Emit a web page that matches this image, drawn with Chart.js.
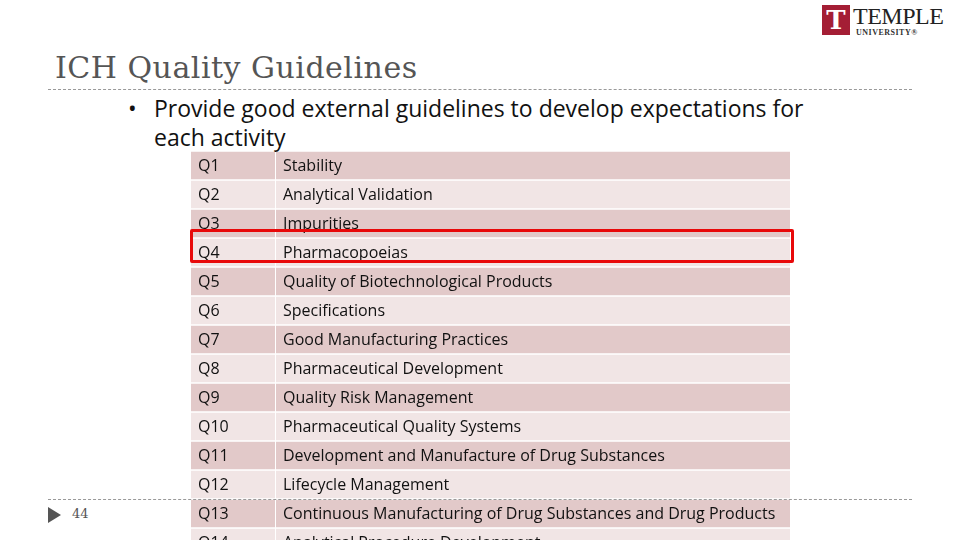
<!DOCTYPE html>
<html>
<head>
<meta charset="utf-8">
<script src="https://cdn.jsdelivr.net/npm/chart.js@4"></script>
<style>
  html, body { margin: 0; padding: 0; }
  body { width: 960px; height: 540px; overflow: hidden; position: relative; background: #fff; font-family: "Open Sans", sans-serif; }
  .abs { position: absolute; }
  #title { left: 55px; top: 50px; font-family: "DejaVu Serif", "Liberation Serif", serif; font-size: 30px; color: #555; letter-spacing: 0.5px; }
  .dash { left: 48px; width: 864px; border-top: 1px dashed #999; }
  #bullet { left: 128px; top: 94px; width: 680px; font-size: 23px; line-height: 29px; color: #111; }
  #bullet span { position: absolute; left: 0; }
  #bullet div { padding-left: 26px; }
  #table { left: 191px; top: 151px; }
  #hl { left: 190px; top: 229px; width: 598px; height: 28px; border: 3px solid #e8090a; border-radius: 2px; }
  #logo { left: 822px; top: 5px; }
</style>
</head>
<body>
<div id="logo" class="abs">
  <div style="position:absolute;left:0;top:0;width:28px;height:30px;background:#a41e35;color:#fff;font:bold 26px 'DejaVu Serif',serif;text-align:center;line-height:30px;">T</div>
  <div style="position:absolute;left:31px;top:-2px;font:24px 'Liberation Serif',serif;color:#222;letter-spacing:-0.5px;">TEMPLE</div>
  <div style="position:absolute;left:34px;top:23px;font:bold 8px 'Liberation Serif',serif;color:#333;letter-spacing:0.5px;">UNIVERSITY®</div>
</div>
<div id="title" class="abs">ICH Quality Guidelines</div>
<div class="abs dash" style="top:89px"></div>
<div id="bullet" class="abs"><span>•</span><div>Provide good external guidelines to develop expectations for each activity</div></div>
<canvas id="table" class="abs" width="599" height="406"></canvas>
<div id="hl" class="abs"></div>
<div class="abs dash" style="top:499px"></div>
<div class="abs" style="left:48px;top:507px;width:0;height:0;border-left:13px solid #555;border-top:8px solid transparent;border-bottom:8px solid transparent;"></div>
<div class="abs" style="left:72px;top:506px;font:13px 'DejaVu Serif',serif;color:#555;">44</div>
<script>
// table content
const codes = ["Q1","Q2","Q3","Q4","Q5","Q6","Q7","Q8","Q9","Q10","Q11","Q12","Q13","Q14"];
const titles = [
  "Stability",
  "Analytical Validation",
  "Impurities",
  "Pharmacopoeias",
  "Quality of Biotechnological Products",
  "Specifications",
  "Good Manufacturing Practices",
  "Pharmaceutical Development",
  "Quality Risk Management",
  "Pharmaceutical Quality Systems",
  "Development and Manufacture of Drug Substances",
  "Lifecycle Management",
  "Continuous Manufacturing of Drug Substances and Drug Products",
  "Analytical Procedure Development"
];
const codeSpan = [0, 84];
const titleSpan = [85, 599];

const rowColors = codes.map((c, i) => i % 2 === 0 ? "#e2c9c9" : "#f1e5e5");

const cellText = {
  id: "cellText",
  afterDatasetsDraw(chart) {
    const c = chart.ctx;
    const x = chart.scales.x, y = chart.scales.y;
    c.save();
    c.font = "16px 'Open Sans', sans-serif";
    c.fillStyle = "#111";
    c.textBaseline = "middle";
    codes.forEach((code, i) => {
      const yy = y.getPixelForValue(i) + 1;
      c.fillText(code, x.getPixelForValue(codeSpan[0]) + 7, yy);
      c.fillText(titles[i], x.getPixelForValue(titleSpan[0]) + 7, yy);
    });
    c.restore();
  }
};

new Chart(document.getElementById("table"), {
  type: "bar",
  data: {
    labels: codes,
    datasets: [
      { data: codes.map(() => codeSpan), backgroundColor: rowColors, borderWidth: 0 },
      { data: codes.map(() => titleSpan), backgroundColor: rowColors, borderWidth: 0 }
    ]
  },
  options: {
    indexAxis: "y",
    responsive: false,
    animation: false,
    layout: { padding: 0 },
    datasets: { bar: { barPercentage: 1, categoryPercentage: 0.94, grouped: false } },
    plugins: { legend: { display: false }, tooltip: { enabled: false } },
    scales: {
      x: { display: false, min: 0, max: 599 },
      y: { display: false }
    }
  },
  plugins: [cellText]
});
</script>
</body>
</html>
